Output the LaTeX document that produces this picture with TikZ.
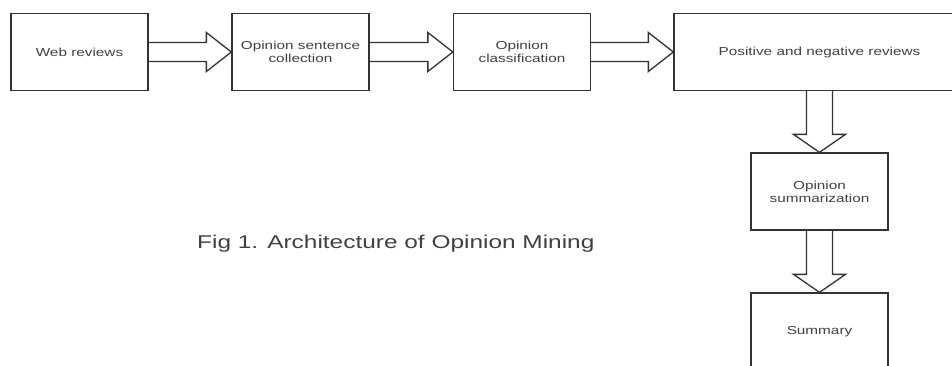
\documentclass[tikz,border=0pt]{standalone}
\usepackage{fontspec}
\setmainfont{Liberation Sans}[FakeStretch=1.32]
\usetikzlibrary{calc}

\definecolor{linegray}{HTML}{333333}
\definecolor{textgray}{HTML}{404040}

\tikzset{
  stage/.style={draw=linegray, line width=1.3pt, minimum width=137pt, minimum height=77pt,
    inner sep=0pt, align=center, text=textgray, font=\fontsize{11.6}{13.3}\selectfont},
  fatarrow/.style={draw=linegray, line width=1.3pt, line join=miter}
}

% hollow block arrows between two stages
\newcommand{\rightblock}[2]{%
  \draw[fatarrow] ($(#1.east)+(0,9.5pt)$) -- ($(#2.west)+(-25pt,9.5pt)$)
    -- ($(#2.west)+(-25pt,19.5pt)$) -- (#2.west) -- ($(#2.west)+(-25pt,-19.5pt)$)
    -- ($(#2.west)+(-25pt,-9.5pt)$) -- ($(#1.east)+(0,-9.5pt)$);}
\newcommand{\downblock}[2]{%
  \draw[fatarrow] ($(#1.south)+(-13pt,0)$) -- ($(#2.north)+(-13pt,18pt)$)
    -- ($(#2.north)+(-26pt,18pt)$) -- (#2.north) -- ($(#2.north)+(26pt,18pt)$)
    -- ($(#2.north)+(13pt,18pt)$) -- ($(#1.south)+(13pt,0)$);}

\begin{document}
\begin{tikzpicture}[x=1pt,y=-1pt]
  \useasboundingbox (0,0) rectangle (952,365);
  \clip (0,0) rectangle (952,365);
  % Stages
  \node[stage] (web) at (79.5,52) {Web reviews};
  \node[stage] (collect) at (300.5,52) {Opinion sentence\\collection};
  \node[stage] (classify) at (522,52) {Opinion\\classification};
  \node[stage, minimum width=291pt] (posneg) at (819.5,52) {Positive and negative reviews};
  \node[stage] (summarize) at (819.5,191.5) {Opinion\\summarization};
  \node[stage] (summary) at (819.5,331.5) {Summary};
  % Caption
  \node[anchor=base west, inner sep=0pt, text=textgray, font=\fontsize{18.5}{22}\selectfont]
    (caption) at (197,248.3) {Fig 1. Architecture of Opinion Mining};
  % Arrows
  \rightblock{web}{collect}
  \rightblock{collect}{classify}
  \rightblock{classify}{posneg}
  \downblock{posneg}{summarize}
  \downblock{summarize}{summary}
\end{tikzpicture}
\end{document}
